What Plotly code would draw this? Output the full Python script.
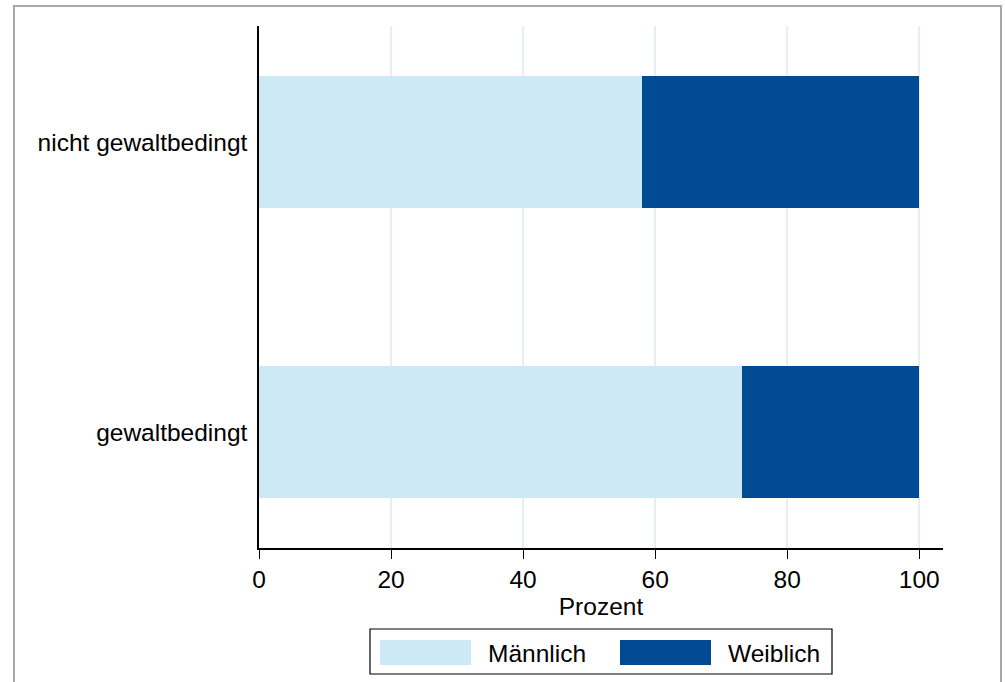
import plotly.graph_objects as go

categories = ["gewaltbedingt", "nicht gewaltbedingt"]
maennlich = [73.2, 58.0]
weiblich = [26.8, 42.0]
series_names = ["Männlich", "Weiblich"]
x_ticks = [0, 20, 40, 60, 80, 100]

c_light = "#cde9f6"
c_dark = "#004b93"
FONT = "Liberation Sans, Arial, Helvetica, sans-serif"
FS = 24.5

W, H = 1005, 682
PL, PR, PT, PB = 259, 943, 26, 548
L, T = PL, PT
R = W - PR
B = H - PB
pw, ph = W - L - R, H - T - B

def px(x):
    return (x - PL) / pw

def py(y):
    return (PB - y) / ph

fig = go.Figure()
fig.add_trace(go.Bar(y=categories, x=maennlich, orientation="h", name=series_names[0],
                     marker=dict(color=c_light, line=dict(width=0)), width=0.457, showlegend=False))
fig.add_trace(go.Bar(y=categories, x=weiblich, orientation="h", name=series_names[1],
                     marker=dict(color=c_dark, line=dict(width=0)), width=0.457, showlegend=False))

shapes = [
    dict(type="rect", xref="paper", yref="paper", x0=px(14), x1=px(1001), y0=py(700), y1=py(6),
         line=dict(color="#a8a8a8", width=2), layer="below"),
    dict(type="rect", xref="paper", yref="paper", x0=px(370), x1=px(832), y0=py(674), y1=py(629),
         line=dict(color="black", width=1.2), fillcolor="white"),
    dict(type="rect", xref="paper", yref="paper", x0=px(380), x1=px(471), y0=py(665), y1=py(640),
         line=dict(width=0), fillcolor=c_light),
    dict(type="rect", xref="paper", yref="paper", x0=px(620), x1=px(711), y0=py(665), y1=py(640),
         line=dict(width=0), fillcolor=c_dark),
]
annotations = [
    dict(text=series_names[0], xref="paper", yref="paper", x=px(486), y=py(653), xanchor="left",
         yanchor="middle", showarrow=False, font=dict(size=FS, color="black", family=FONT)),
    dict(text=series_names[1], xref="paper", yref="paper", x=px(726), y=py(653), xanchor="left",
         yanchor="middle", showarrow=False, font=dict(size=FS, color="black", family=FONT)),
]

fig.update_layout(
    width=W, height=H,
    margin=dict(l=L, r=R, t=T, b=B, pad=0),
    barmode="stack",
    paper_bgcolor="white", plot_bgcolor="white",
    font=dict(family=FONT, size=FS, color="black"),
    shapes=shapes, annotations=annotations,
    xaxis=dict(range=[0, 103.6], tickvals=x_ticks, showgrid=True, gridcolor="#e8eff4", gridwidth=1.5,
               zeroline=False, showline=True, linecolor="black", linewidth=1.5,
               ticks="outside", ticklen=9, tickwidth=1.2, tickcolor="black",
               title=dict(text="Prozent", standoff=2, font=dict(size=FS)), tickfont=dict(size=FS)),
    yaxis=dict(type="category", categoryorder="array", categoryarray=categories, range=[-0.4, 1.4],
               showgrid=False, zeroline=False, showline=True, linecolor="black", linewidth=1.5,
               ticks="", ticklabelstandoff=5, tickfont=dict(size=FS)),
)

fig.write_html("out.html", config={"displayModeBar": False},
               post_script="document.body.style.margin='0px';document.body.style.overflow='hidden';")
